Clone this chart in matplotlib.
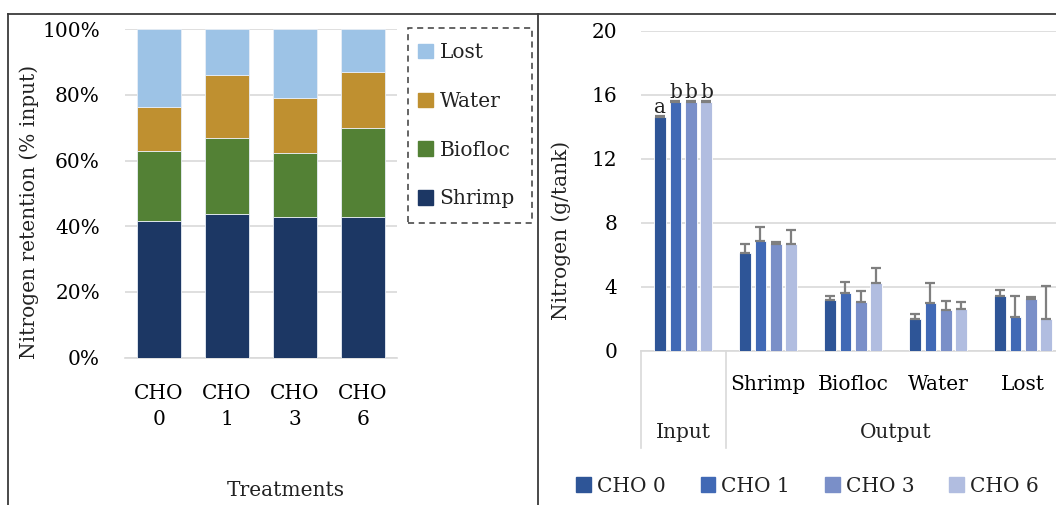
import numpy as np
import matplotlib
matplotlib.use("Agg")
import matplotlib.pyplot as plt
import matplotlib.transforms as mtransforms
from matplotlib.patches import Patch, Rectangle
from matplotlib.lines import Line2D

plt.rcParams['font.family'] = ['DejaVu Serif']
plt.rcParams['font.size'] = 14.5
plt.rcParams['text.color'] = '#222222'

# left panel: nitrogen retention, % of input
treatments = ["CHO\n0", "CHO\n1", "CHO\n3", "CHO\n6"]
pct_shrimp = [41.5, 43.7, 42.8, 42.8]
pct_biofloc = [21.4, 23.3, 19.5, 27.1]
pct_water = [13.4, 19.0, 16.7, 17.1]
pct_lost = [23.7, 14.0, 21.0, 13.0]

# right panel: nitrogen g/tank
categories = ["Input", "Shrimp", "Biofloc", "Water", "Lost"]
groups = ["CHO 0", "CHO 1", "CHO 3", "CHO 6"]
n_cho0 = [14.64, 6.12, 3.17, 1.98, 3.42]
n_cho1 = [15.54, 6.85, 3.63, 2.98, 2.13]
n_cho3 = [15.54, 6.71, 3.04, 2.58, 3.25]
n_cho6 = [15.54, 6.71, 4.23, 2.65, 2.00]
err_cho0 = [0.05, 0.57, 0.29, 0.35, 0.41]
err_cho1 = [0.05, 0.90, 0.70, 1.25, 1.31]
err_cho3 = [0.05, 0.08, 0.69, 0.55, 0.10]
err_cho6 = [0.05, 0.87, 0.98, 0.43, 2.08]
input_letters = ["a", "b", "b", "b"]

W, H = 1056, 505
fig = plt.figure(figsize=(W / 100, H / 100), dpi=100)

grid_c = '#D9D9D9'
frame_c = '#3A3A3A'

# ---------- left panel ----------
ax1 = fig.add_axes([125 / W, 1 - 357.5 / H, 272 / W, 328.2 / H])
x = np.arange(len(treatments))
cols_left = ['#1C3764', '#538135', '#BF9030', '#9DC3E6']
names_left = ['Shrimp', 'Biofloc', 'Water', 'Lost']
bottom = np.zeros(len(treatments))
for vals, c in zip([pct_shrimp, pct_biofloc, pct_water, pct_lost], cols_left):
    ax1.bar(x, vals, 0.65, bottom=bottom, color=c, edgecolor='#E8EEF6', linewidth=0.6, zorder=3)
    bottom += np.array(vals)
ax1.set_xlim(-0.5, 3.5)
ax1.set_ylim(0, 100)
ax1.set_yticks(np.arange(0, 101, 20))
ax1.set_yticklabels([f"{v}%" for v in range(0, 101, 20)])
ax1.set_xticks(x)
ax1.set_xticklabels(treatments, linespacing=1.45)
ax1.grid(axis='y', color=grid_c, linewidth=1.2, zorder=0)
for s in ['top', 'right', 'left']:
    ax1.spines[s].set_visible(False)
ax1.spines['bottom'].set_color(grid_c)
ax1.spines['bottom'].set_linewidth(1.2)
ax1.tick_params(axis='both', length=0)
ax1.tick_params(axis='y', pad=18)
ax1.tick_params(axis='x', pad=19)

fig.text(29 / W, 1 - 212 / H, "Nitrogen retention (% input)", rotation=90,
         ha='center', va='center')
fig.text(286 / W, 1 - 491 / H, "Treatments", ha='center', va='center')

# legend with dashed box
fig.add_artist(Rectangle((407.7 / W, 1 - 223.3 / H), 124.6 / W, 195.6 / H,
                         transform=fig.transFigure, fill=False, ls=(0, (4, 3)),
                         lw=1.1, edgecolor=frame_c))
handles = [Patch(color=c) for c in cols_left[::-1]]
fig.legend(handles, names_left[::-1], loc='upper left',
           bbox_to_anchor=(418 / W, 1 - 43 / H), frameon=False,
           handlelength=0.72, handleheight=0.72, handletextpad=0.35,
           labelspacing=1.48, borderpad=0, borderaxespad=0)

# ---------- right panel ----------
ax2 = fig.add_axes([640.7 / W, 1 - 351 / H, 425 / W, 320.3 / H])
xc = np.arange(len(categories))
cols_right = ['#2E5597', '#4169B5', '#7A8FC8', '#B1BDE0']
series = [n_cho0, n_cho1, n_cho3, n_cho6]
errs = [err_cho0, err_cho1, err_cho3, err_cho6]
bw = 0.14
step = 0.182
for i, (vals, e, c) in enumerate(zip(series, errs, cols_right)):
    pos = xc + (i - 1.5) * step
    ax2.bar(pos, vals, bw, color=c, edgecolor='white', linewidth=0.6, zorder=3)
    ax2.errorbar(pos, vals, yerr=[np.zeros(len(e)), e], fmt='none',
                 ecolor='#7F7F7F', elinewidth=1.6, capsize=3.8, capthick=1.6, zorder=4)
    ax2.annotate(input_letters[i], (pos[0], vals[0]), xytext=(0, 0),
                 textcoords='offset points', ha='center', va='bottom')
ax2.set_xlim(-0.5, 4.5)
ax2.set_ylim(0, 20)
ax2.set_yticks(np.arange(0, 21, 4))
ax2.set_xticks(xc[1:])
ax2.set_xticklabels(categories[1:])
ax2.grid(axis='y', color=grid_c, linewidth=1.2, zorder=0)
for s in ['top', 'right', 'left']:
    ax2.spines[s].set_visible(False)
ax2.spines['bottom'].set_color(grid_c)
ax2.spines['bottom'].set_linewidth(1.2)
ax2.tick_params(axis='both', length=0)
ax2.tick_params(axis='y', pad=17)
ax2.tick_params(axis='x', pad=17)

blend = mtransforms.blended_transform_factory(ax2.transData, fig.transFigure)
for xv in [-0.5, 0.5]:
    ax2.plot([xv, xv], [1 - 351 / H, 1 - 448 / H], color=grid_c, lw=1.2,
             transform=blend, clip_on=False)
ax2.text(0, 1 - 433 / H, "Input", transform=blend, ha='center', va='center')
ax2.text(2.5, 1 - 433 / H, "Output", transform=blend, ha='center', va='center')

fig.text(561 / W, 1 - 230 / H, "Nitrogen (g/tank)", rotation=90, ha='center', va='center')

handles2 = [Patch(color=c) for c in cols_right]
fig.legend(handles2, groups, loc='center left', ncol=4,
           bbox_to_anchor=(576 / W, 1 - 486 / H), frameon=False,
           handlelength=0.72, handleheight=0.72, handletextpad=0.3,
           columnspacing=1.75, borderpad=0, borderaxespad=0)

# outer frame lines
fig.add_artist(Line2D([8 / W, 1], [1 - 14 / H, 1 - 14 / H], color=frame_c, lw=1.3,
                      transform=fig.transFigure))
for xv in [8.3, 537.5]:
    fig.add_artist(Line2D([xv / W, xv / W], [0, 1 - 14 / H], color=frame_c, lw=1.3,
                          transform=fig.transFigure))

fig.savefig("out.png", dpi=100)
